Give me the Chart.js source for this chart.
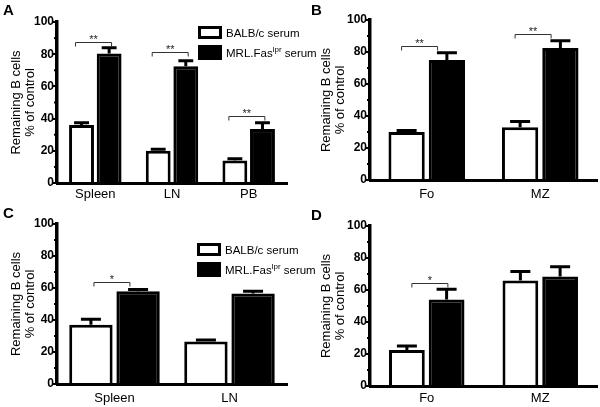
<!DOCTYPE html>
<html>
<head>
<meta charset="utf-8">
<script src="https://cdn.jsdelivr.net/npm/chart.js@4.4.1/dist/chart.umd.min.js"></script>
<style>
body { margin: 0; background: #fff; font-family: "Liberation Sans", Arial, sans-serif; }
#wrap { position: relative; width: 600px; height: 407px; overflow: hidden; }
.panel { position: absolute; }
.letter { position: absolute; font: bold 15px "Liberation Sans", Arial, sans-serif; }
.legend { position: absolute; font-size: 11.5px; line-height: 14px; white-space: nowrap; }
.legend .row { position: relative; height: 20px; padding-left: 28px; }
.legend .box { position: absolute; left: 0; top: 0; width: 24px; height: 13px; box-sizing: border-box; }
.legend .w { border: 3px solid #000; background: #fff; }
.legend .b { background: #000; height: 15px; top: -1px; }
.legend sup { font-size: 8px; vertical-align: 5px; line-height: 0; }
</style>
</head>
<body>
<div id="wrap">
  <div class="panel" style="left:0;top:0"><canvas id="chartA" width="300" height="204"></canvas></div>
  <div class="panel" style="left:300px;top:0"><canvas id="chartB" width="300" height="204"></canvas></div>
  <div class="panel" style="left:0;top:204px"><canvas id="chartC" width="300" height="203"></canvas></div>
  <div class="panel" style="left:300px;top:204px"><canvas id="chartD" width="300" height="203"></canvas></div>

  <div class="letter" style="left:3px;top:1px">A</div>
  <div class="letter" style="left:311px;top:1px">B</div>
  <div class="letter" style="left:3px;top:204px">C</div>
  <div class="letter" style="left:311px;top:206px">D</div>

  <div class="legend" style="left:198px;top:26px">
    <div class="row"><span class="box w"></span>BALB/c serum</div>
    <div class="row"><span class="box b"></span>MRL.Fas<sup>lpr</sup> serum</div>
  </div>
  <div class="legend" style="left:197px;top:243px">
    <div class="row"><span class="box w"></span>BALB/c serum</div>
    <div class="row"><span class="box b"></span>MRL.Fas<sup>lpr</sup> serum</div>
  </div>
</div>

<script>
// panel A - whole organs
const catsA = ["Spleen", "LN", "PB"];
const balbA = [36, 20, 14];
const balbErrA = [1.5, 1, 1];
const mrlA = [80.5, 72.5, 33.5];
const mrlErrA = [3.5, 3.5, 4];
const sigCatA = [0, 1, 2];
const sigValA = [87.5, 81.5, 41.5];
const sigTxtA = ["**", "**", "**"];

// panel B - subsets
const catsB = ["Fo", "MZ"];
const balbB = [30, 33];
const balbErrB = [1, 3.5];
const mrlB = [75, 82.5];
const mrlErrB = [4.5, 4.5];
const sigCatB = [0, 1];
const sigValB = [83.5, 91.5];
const sigTxtB = ["**", "**"];

// panel C
const catsC = ["Spleen", "LN"];
const balbC = [37, 26.5];
const balbErrC = [3.5, 1];
const mrlC = [58, 56.5];
const mrlErrC = [1, 1.5];
const sigCatC = [0];
const sigValC = [64];
const sigTxtC = ["*"];

// panel D
const catsD = ["Fo", "MZ"];
const balbD = [22.5, 66];
const balbErrD = [2.5, 5.5];
const mrlD = [54, 68.5];
const mrlErrD = [6.5, 6];
const sigCatD = [0];
const sigValD = [64.5];
const sigTxtD = ["*"];

const yTicks = [0, 20, 40, 60, 80, 100];
const yMinor = [10, 30, 50, 70, 90];
const FONT = "'Liberation Sans', Arial, sans-serif";

const extras = {
  id: "extras",
  afterDatasetsDraw(chart, args, opts) {
    const ctx = chart.ctx;
    const ys = chart.scales.y;
    ctx.save();
    ctx.strokeStyle = "#000";
    ctx.lineCap = "butt";

    // error bars (upper whisker only)
    chart.data.datasets.forEach((ds, i) => {
      const meta = chart.getDatasetMeta(i);
      meta.data.forEach((bar, j) => {
        const top = ys.getPixelForValue(ds.data[j] + ds.errors[j]);
        const half = Math.min(bar.width * 0.3, 10);
        ctx.lineWidth = 3;
        ctx.beginPath();
        ctx.moveTo(bar.x, bar.y);
        ctx.lineTo(bar.x, top);
        ctx.moveTo(bar.x - half, top);
        ctx.lineTo(bar.x + half, top);
        ctx.stroke();
      });
    });

    // minor ticks on the y axis
    const axisX = chart.chartArea.left;
    ctx.lineWidth = 2;
    yMinor.forEach(v => {
      const p = ys.getPixelForValue(v);
      ctx.beginPath();
      ctx.moveTo(axisX - 3, p);
      ctx.lineTo(axisX, p);
      ctx.stroke();
    });

    // significance brackets
    const white = chart.getDatasetMeta(0).data;
    ctx.lineWidth = 1;
    ctx.strokeStyle = "#333";
    ctx.fillStyle = "#222";
    ctx.font = "11px " + FONT;
    ctx.textAlign = "center";
    ctx.textBaseline = "bottom";
    opts.cats.forEach((c, k) => {
      const left = white[c].x + opts.shift;
      const right = left + opts.width;
      const py = Math.round(ys.getPixelForValue(opts.vals[k])) + 0.5;
      ctx.beginPath();
      ctx.moveTo(left, py + 4);
      ctx.lineTo(left, py);
      ctx.lineTo(right, py);
      ctx.lineTo(right, py + 4);
      ctx.stroke();
      ctx.fillText(opts.txt[k], (left + right) / 2, py + 3);
    });
    ctx.restore();
  }
};

function makeChart(id, cats, balb, balbErr, mrl, mrlErr, sig, geo) {
  return new Chart(document.getElementById(id), {
    type: "bar",
    data: {
      labels: cats,
      datasets: [
        { label: "BALB/c serum", data: balb, errors: balbErr,
          backgroundColor: "#fff", borderColor: "#000", borderWidth: 3, borderSkipped: "start",
          categoryPercentage: geo.cat, barPercentage: geo.bar },
        { label: "MRL.Fas lpr serum", data: mrl, errors: mrlErr,
          backgroundColor: "#000", borderColor: "#000", borderWidth: 3, borderSkipped: "start",
          categoryPercentage: geo.cat, barPercentage: geo.bar }
      ]
    },
    options: {
      responsive: false,
      animation: false,
      events: [],
      layout: { padding: { left: 0, right: geo.right, top: geo.top, bottom: 0 } },
      plugins: {
        legend: { display: false },
        tooltip: { enabled: false },
        extras: sig
      },
      scales: {
        x: {
          grid: { display: false, drawTicks: false },
          border: { display: true, color: "#000", width: 3 },
          ticks: { color: "#000", padding: geo.labelPad, font: { family: FONT, size: 13 } },
          afterFit: s => { s.height = geo.bottom; }
        },
        y: {
          min: 0, max: 100,
          afterBuildTicks: s => { s.ticks = yTicks.map(v => ({ value: v })); },
          grid: { drawOnChartArea: false, drawTicks: true, tickLength: 4, color: "#000", lineWidth: 2 },
          border: { display: true, color: "#000", width: 3.5 },
          ticks: { color: "#000", padding: -1, font: { family: FONT, size: 12, weight: "bold" } },
          title: {
            display: true,
            text: ["Remaining B cells", "% of control"],
            color: "#000",
            font: { family: FONT, size: 13, lineHeight: 1.05 },
            padding: { top: geo.titlePad, bottom: 0 }
          },
          afterFit: s => { s.width = geo.left; }
        }
      }
    },
    plugins: [extras]
  });
}

makeChart("chartA", catsA, balbA, balbErrA, mrlA, mrlErrA,
  { cats: sigCatA, vals: sigValA, txt: sigTxtA, shift: -6, width: 36 },
  { left: 57, right: 13, top: 22, bottom: 21, labelPad: 4, cat: 0.72, bar: 0.9, titlePad: 10 });

makeChart("chartB", catsB, balbB, balbErrB, mrlB, mrlErrB,
  { cats: sigCatB, vals: sigValB, txt: sigTxtB, shift: -5, width: 36 },
  { left: 70, right: 3, top: 20, bottom: 24, labelPad: 7, cat: 0.71, bar: 0.9, titlePad: 20 });

makeChart("chartC", catsC, balbC, balbErrC, mrlC, mrlErrC,
  { cats: sigCatC, vals: sigValC, txt: sigTxtC, shift: 3, width: 36 },
  { left: 57, right: 13, top: 20, bottom: 23, labelPad: 7, cat: 0.82, bar: 0.92, titlePad: 10 });

makeChart("chartD", catsD, balbD, balbErrD, mrlD, mrlErrD,
  { cats: sigCatD, vals: sigValD, txt: sigTxtD, shift: 5, width: 36 },
  { left: 70, right: 3, top: 22, bottom: 21, labelPad: 5, cat: 0.7, bar: 0.9, titlePad: 20 });
</script>
</body>
</html>
